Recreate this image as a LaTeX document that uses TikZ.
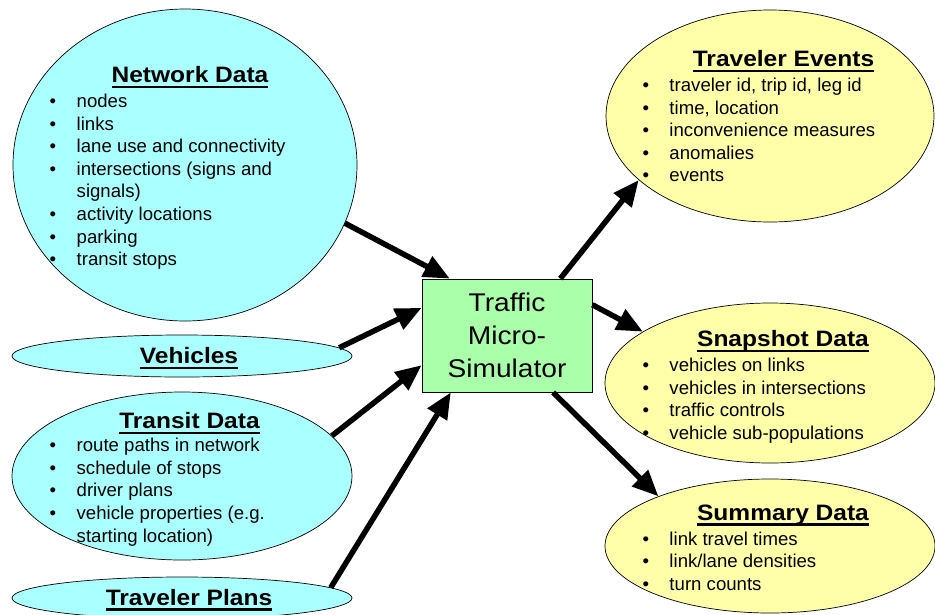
\documentclass[tikz,border=0pt]{standalone}
\usepackage{fontspec}
\setmainfont{Liberation Sans}
\newfontfamily\widefont{Liberation Sans}[FakeStretch=1.1]
\usetikzlibrary{shapes.geometric,arrows.meta,calc}

\definecolor{incyan}{HTML}{AAFFFF}
\definecolor{outyellow}{HTML}{FFFFAA}
\definecolor{simgreen}{HTML}{AAFFAA}

% underlined heading with a heavy rule
\newcommand\headline[1]{\setbox0=\hbox{#1}\rlap{\rule[-5.6pt]{\wd0}{2.2pt}}\box0}
% bullet cell and bullet list
\newcommand\bl{\makebox[27pt][l]{\textbullet}}
\newcommand\bulletlist[1]{\begin{tabular}[t]{@{}l@{}l@{}}#1\end{tabular}}

\tikzset{
  inblob/.style={ellipse, draw=black, line width=0.7pt, fill=incyan, inner sep=0pt},
  outblob/.style={ellipse, draw=black, line width=0.7pt, fill=outyellow, inner sep=0pt},
  simbox/.style={rectangle, draw=black, line width=0.8pt, fill=simgreen,
    minimum width=170pt, minimum height=113pt, inner sep=0pt, align=center,
    font=\widefont\fontsize{25.6}{33.3}\selectfont},
  heading/.style={anchor=base, inner sep=0pt,
    font=\widefont\bfseries\fontsize{22.3}{26}\selectfont},
  items/.style={anchor=base west, inner sep=0pt,
    font=\fontsize{18.6}{22.6}\selectfont},
  flow/.style={line width=5.5pt, -{Triangle[length=26pt,width=22pt]}}
}

\begin{document}
\begin{tikzpicture}[x=1pt,y=-1pt]
\useasboundingbox (0,0) rectangle (935,614);
\fill[white] (0,0) rectangle (935,614);
\clip (0,0) rectangle (935,614);

% inputs
\node[inblob, minimum width=344pt, minimum height=312pt] (net) at (185,165) {};
\node[inblob, minimum width=340pt, minimum height=42pt] (veh) at (182,356) {};
\node[inblob, minimum width=340pt, minimum height=168pt] (tra) at (182,476) {};
\node[inblob, minimum width=340pt, minimum height=42pt] (pla) at (182,598) {};

% outputs
\node[outblob, minimum width=328pt, minimum height=212pt] (evt) at (770,116) {};
\node[outblob, minimum width=330pt, minimum height=160pt] (snap) at (770,383) {};
\node[outblob, minimum width=330pt, minimum height=134pt] (sum) at (770,546) {};

% simulator
\node[simbox] (sim) at (507,335.5) {Traffic\\Micro-\\Simulator};

% input texts
\node[heading] (netT) at (190,82.3) {\headline{Network Data}};
\node[items] (netL) at (49.5,107.5) {\bulletlist{
  \bl & nodes\\
  \bl & links\\
  \bl & lane use and connectivity\\
  \bl & intersections (signs and\\
      & signals)\\
  \bl & activity locations\\
  \bl & parking\\
  \bl & transit stops}};

\node[heading] (vehT) at (189,363.5) {\headline{Vehicles}};

\node[heading] (traT) at (189.5,428.5) {\headline{Transit Data}};
\node[items] (traL) at (49.5,451.7) {\bulletlist{
  \bl & route paths in network\\
  \bl & schedule of stops\\
  \bl & driver plans\\
  \bl & vehicle properties (e.g.\\
      & starting location)}};

\node[heading] (plaT) at (189,605) {\headline{Traveler Plans}};

% output texts
\node[heading] (evtT) at (783.5,66.7) {\headline{Traveler Events}};
\node[items] (evtL) at (642.3,91.5) {\bulletlist{
  \bl & traveler id, trip id, leg id\\
  \bl & time, location\\
  \bl & inconvenience measures\\
  \bl & anomalies\\
  \bl & events}};

\node[heading] (snapT) at (783,346.7) {\headline{Snapshot Data}};
\node[items] (snapL) at (642.3,371.7) {\bulletlist{
  \bl & vehicles on links\\
  \bl & vehicles in intersections\\
  \bl & traffic controls\\
  \bl & vehicle sub-populations}};

\node[heading] (sumT) at (783,520) {\headline{Summary Data}};
\node[items] (sumL) at (642.3,545) {\bulletlist{
  \bl & link travel times\\
  \bl & link/lane densities\\
  \bl & turn counts}};

% data flow into and out of the simulator
\draw[flow] (net.-20.5) -- ($(sim.north west)!0.165!(sim.north east)$);
\draw[flow] (veh.3) -- ($(sim.north west)!0.257!(sim.south west)$);
\draw[flow] (tra.15.5) -- ($(sim.north west)!0.761!(sim.south west)$);
\draw[flow] (pla.4.2) -- ($(sim.south west)!0.171!(sim.south east)$);
\draw[flow] ($(sim.north west)!0.812!(sim.north east)$) -- (evt.206.9);
\draw[flow] ($(sim.north east)!0.23!(sim.south east)$) -- (snap.158.3);
\draw[flow] ($(sim.south west)!0.77!(sim.south east)$) -- (sum.156.6);
\end{tikzpicture}
\end{document}
